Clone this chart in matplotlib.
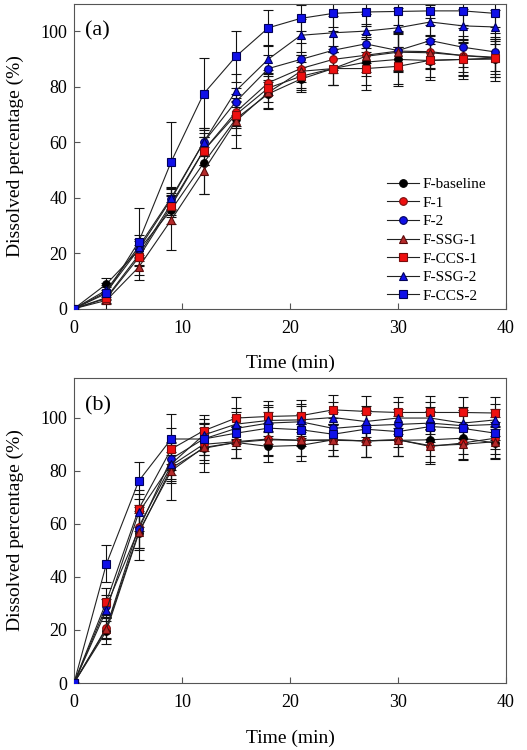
import numpy as np
import matplotlib
matplotlib.use('Agg')
import matplotlib.pyplot as plt

plt.rcParams['font.family'] = ['Liberation Serif', 'DejaVu Serif']

time = [0, 3, 6, 9, 12, 15, 18, 21, 24, 27, 30, 33, 36, 39]
labels = ['F-baseline', 'F-1', 'F-2', 'F-SSG-1', 'F-CCS-1', 'F-SSG-2', 'F-CCS-2']

# panel (a)
a_base = [0, 8.9, 21.2, 35.6, 52.5, 68.5, 77.5, 82.8, 86.6, 88.9, 89.9, 89.5, 89.9, 90.0]
a_f1 = [0, 4.0, 19.4, 37.8, 57.0, 71.0, 81.5, 86.6, 89.9, 91.4, 92.9, 92.7, 91.3, 90.7]
a_f2 = [0, 6.0, 21.5, 39.5, 60.0, 74.7, 86.6, 89.9, 93.2, 95.5, 93.1, 96.7, 94.3, 92.6]
a_ssg1 = [0, 3.0, 15.0, 32.0, 49.7, 67.7, 78.0, 85.6, 86.6, 91.0, 92.5, 92.3, 91.3, 90.4]
a_ccs1 = [0, 3.7, 18.5, 37.0, 57.0, 70.0, 79.6, 83.8, 86.6, 86.6, 87.4, 89.6, 89.9, 90.4]
a_ssg2 = [0, 6.7, 22.4, 40.0, 60.0, 78.6, 90.0, 98.6, 99.5, 100.1, 101.3, 103.4, 102.0, 101.6]
a_ccs2 = [0, 5.5, 24.2, 53.0, 77.5, 91.0, 101.3, 104.7, 106.5, 107.0, 107.2, 107.4, 107.4, 106.5]

a_base_err = [0, 2.3, 4.0, 5.0, 11.0, 6.0, 5.0, 4.5, 6.0, 10.0, 9.0, 7.0, 7.0, 8.0]
a_f1_err = [0, 2.0, 3.5, 4.0, 5.0, 5.0, 4.5, 5.0, 5.0, 6.0, 7.0, 6.0, 6.0, 6.0]
a_f2_err = [0, 2.5, 3.0, 4.0, 5.0, 5.0, 5.0, 6.0, 7.0, 7.0, 7.0, 8.0, 7.0, 7.0]
a_ssg1_err = [0, 3.0, 4.5, 11.0, 8.5, 9.8, 6.0, 6.0, 6.0, 7.0, 7.0, 6.0, 7.0, 7.0]
a_ccs1_err = [0, 2.0, 3.0, 4.0, 5.0, 5.0, 5.0, 5.0, 6.0, 6.0, 7.0, 6.0, 6.0, 7.0]
a_ssg2_err = [0, 2.5, 4.0, 4.0, 5.0, 6.0, 5.0, 6.0, 6.0, 6.0, 7.0, 6.0, 6.0, 6.0]
a_ccs2_err = [0, 2.5, 12.0, 14.5, 13.0, 9.3, 6.5, 4.7, 5.0, 5.0, 5.0, 5.0, 5.0, 5.0]

# panel (b)
b_base = [0, 19.6, 56.5, 81.0, 88.5, 90.7, 89.2, 89.6, 91.7, 91.3, 91.5, 91.7, 92.3, 90.5]
b_f1 = [0, 20.9, 59.0, 82.0, 90.0, 91.0, 92.0, 91.5, 91.5, 91.3, 91.7, 89.2, 90.5, 92.3]
b_f2 = [0, 29.0, 58.0, 84.5, 92.0, 96.0, 98.0, 98.5, 96.0, 97.0, 97.5, 98.0, 97.0, 97.5]
b_ssg1 = [0, 20.5, 57.0, 80.0, 88.8, 90.7, 91.7, 91.5, 91.7, 91.3, 91.7, 89.5, 90.0, 91.0]
b_ccs1 = [0, 30.7, 65.7, 88.2, 95.1, 99.9, 100.5, 100.8, 103.0, 102.4, 102.0, 102.0, 102.0, 101.8]
b_ssg2 = [0, 27.5, 64.3, 82.6, 93.5, 97.6, 99.0, 99.2, 100.1, 98.6, 99.9, 99.9, 98.0, 99.2]
b_ccs2 = [0, 44.9, 76.2, 92.0, 92.0, 94.2, 96.1, 95.5, 93.8, 95.7, 94.8, 96.7, 96.0, 94.2]

b_base_err = [0, 5.0, 10.0, 5.0, 9.0, 6.0, 6.0, 6.0, 6.0, 6.0, 6.0, 6.0, 6.0, 6.0]
b_f1_err = [0, 4.0, 8.0, 5.0, 6.0, 6.0, 6.0, 6.0, 6.0, 6.0, 6.0, 6.5, 6.0, 6.0]
b_f2_err = [0, 4.0, 7.0, 6.0, 6.0, 6.0, 6.0, 6.0, 6.0, 6.0, 6.0, 6.0, 6.0, 6.0]
b_ssg1_err = [0, 4.0, 7.0, 11.0, 6.0, 6.0, 6.0, 6.0, 6.0, 6.0, 6.0, 6.0, 6.0, 6.0]
b_ccs1_err = [0, 5.0, 7.0, 8.0, 6.0, 8.0, 6.0, 6.0, 5.7, 6.0, 6.0, 6.3, 6.0, 6.0]
b_ssg2_err = [0, 4.0, 7.0, 7.0, 6.0, 6.0, 6.0, 6.0, 6.0, 6.0, 6.0, 6.0, 6.0, 6.0]
b_ccs2_err = [0, 7.0, 7.0, 9.4, 6.0, 6.0, 6.0, 6.0, 6.0, 6.0, 6.0, 6.0, 6.0, 6.0]

styles = [
    ('o', '#000000', '#000000'),
    ('o', '#ee1010', '#7a0d0d'),
    ('o', '#1010e8', '#00005a'),
    ('^', '#b52a2a', '#5a0a0a'),
    ('s', '#ee1010', '#7a0d0d'),
    ('^', '#1010e8', '#00005a'),
    ('s', '#1010e8', '#00005a'),
]


def draw_panel(ax, series, errors, ymax, tag, legend=False):
    for y, e in zip(series, errors):
        ax.errorbar(time, y, yerr=e, fmt='none', ecolor='#111111',
                    elinewidth=0.8, capsize=3.5, capthick=0.8, zorder=1)
    for y, lab, (m, fc, ec) in zip(series, labels, styles):
        ax.plot(time, y, color='#222222', lw=0.8, marker=m, ms=5.5,
                mfc=fc, mec=ec, mew=0.8, label=lab, zorder=3)
    ax.set_xlim(0, 40)
    ax.set_ylim(0, ymax)
    ax.set_xticks([0, 10, 20, 30, 40])
    ax.set_yticks([0, 20, 40, 60, 80, 100])
    ax.tick_params(direction='in', length=4, labelsize=13, color='#555555')
    ax.tick_params(axis='x', pad=8)
    ax.tick_params(axis='y', pad=5)
    for s in ax.spines.values():
        s.set_color('#555555')
    ax.set_xlabel('Time (min)', fontsize=14, labelpad=13)
    ax.set_ylabel('Dissolved percentage (%)', fontsize=14, labelpad=12)
    ax.text(0.025, 0.91, tag, transform=ax.transAxes, fontsize=16,
            va='center', ha='left')
    if legend:
        ax.legend(loc='upper left', bbox_to_anchor=(0.725, 0.43), frameon=False,
                  fontsize=11, handlelength=2.1, handletextpad=0.2,
                  labelspacing=0.32, borderpad=0, borderaxespad=0)


fig = plt.figure(figsize=(5.27, 7.5), dpi=100)
ax1 = fig.add_axes([0.1404, 0.5884, 0.8197, 0.4067])
ax2 = fig.add_axes([0.1404, 0.0893, 0.8197, 0.4067])

draw_panel(ax1, [a_base, a_f1, a_f2, a_ssg1, a_ccs1, a_ssg2, a_ccs2],
           [a_base_err, a_f1_err, a_f2_err, a_ssg1_err, a_ccs1_err, a_ssg2_err, a_ccs2_err],
           110, '(a)', legend=True)
draw_panel(ax2, [b_base, b_f1, b_f2, b_ssg1, b_ccs1, b_ssg2, b_ccs2],
           [b_base_err, b_f1_err, b_f2_err, b_ssg1_err, b_ccs1_err, b_ssg2_err, b_ccs2_err],
           115, '(b)')

fig.savefig('out.png', dpi=100)
